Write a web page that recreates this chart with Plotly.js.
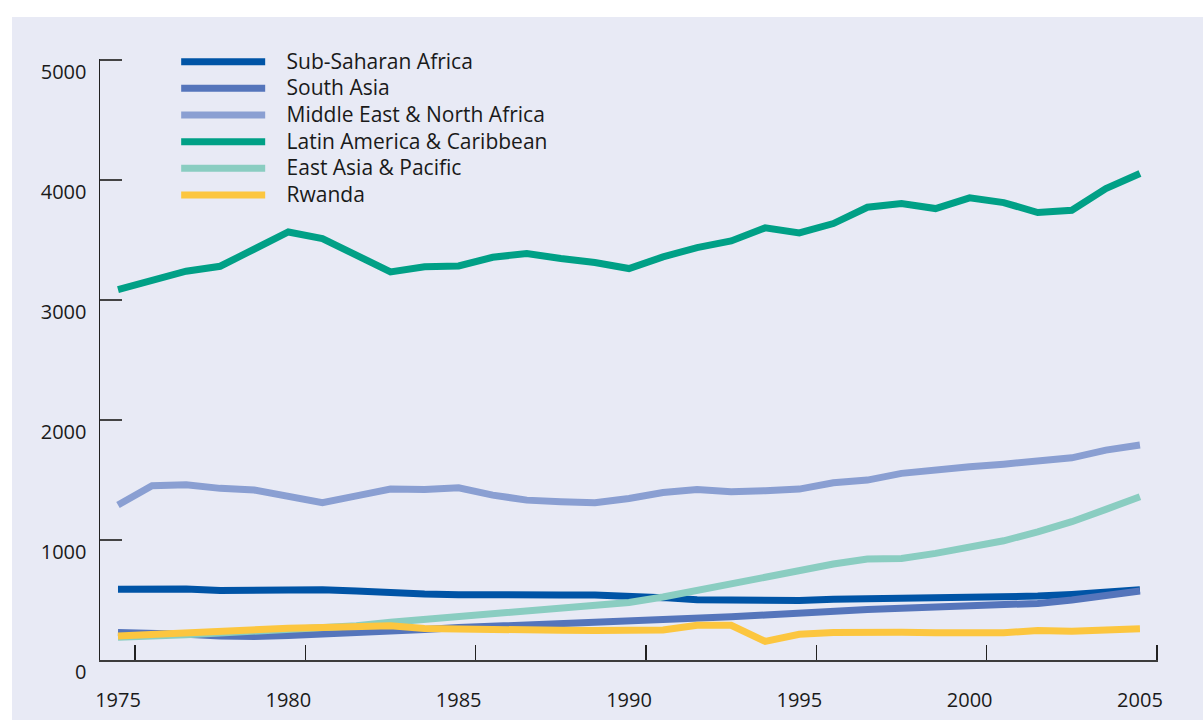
<!DOCTYPE html>
<html>
<head>
<meta charset="utf-8">
<script src="https://cdn.plot.ly/plotly-3.0.1.min.js"></script>
<style>
  html, body { margin: 0; padding: 0; background: #ffffff; width: 1203px; height: 720px; overflow: hidden; }
  #chart { position: absolute; left: 12px; top: 17px; width: 1191px; height: 703px; }
</style>
</head>
<body>
<div id="chart"></div>
<script>
const years = [1975,1976,1977,1978,1979,1980,1981,1982,1983,1984,1985,1986,1987,1988,1989,1990,
               1991,1992,1993,1994,1995,1996,1997,1998,1999,2000,2001,2002,2003,2004,2005];

const subSaharanAfrica = [589,597,592,580,586,592,586,575,556,550,544,539,536,542,542,535,
                          520,502,496,492,496,506,511,511,514,517,522,533,547,567,585];
const southAsia = [230,225,215,200,195,205,215,225,240,255,270,280,290,305,315,325,
                   333,353,361,375,394,411,422,431,444,453,464,472,500,533,575];
const middleEastNorthAfrica = [1292,1453,1461,1431,1417,1367,1311,1369,1425,1422,1436,1375,1333,1319,1311,1347,
                               1397,1422,1403,1411,1425,1478,1500,1556,1589,1611,1633,1661,1686,1750,1792];
const latinAmericaCaribbean = [3089,3167,3242,3283,3431,3569,3514,3375,3236,3278,3286,3358,3389,3347,3314,3264,
                               3361,3439,3494,3603,3561,3639,3775,3806,3764,3853,3814,3731,3750,3931,4056];
const eastAsiaPacific = [190,195,210,225,240,255,270,285,315,340,360,380,405,435,455,480,
                         525,583,639,694,750,800,842,847,889,944,994,1069,1153,1256,1361];
const rwanda = [200,215,220,235,255,265,272,280,285,262,262,258,248,248,245,245,
                250,290,290,155,215,230,235,232,228,222,228,245,240,250,260];

const seriesNames = ["Sub-Saharan Africa","South Asia","Middle East & North Africa",
                     "Latin America & Caribbean","East Asia & Pacific","Rwanda"];
const seriesValues = [subSaharanAfrica, southAsia, middleEastNorthAfrica,
                      latinAmericaCaribbean, eastAsiaPacific, rwanda];
const seriesColors = ["#0054a6","#5575bb","#8a9fd2","#00a086","#8acdc1","#fcc63f"];

const yTicks = [0,1000,2000,3000,4000,5000];
const xTickLabels = ["1975","1980","1985","1990","1995","2000","2005"];
const xTickPositions = xTickLabels.map(s => Number(s) + 0.5);

const traces = seriesNames.map((name, i) => ({
  type: "scatter",
  mode: "lines",
  name: '<span style="font-size:21px">&nbsp;&nbsp;&nbsp;' + name.replace(/&/g, "&amp;") + '</span>',
  x: years,
  y: seriesValues[i],
  line: { color: seriesColors[i], width: 7 },
  hoverinfo: "x+y"
}));

const font = "'Open Sans', 'Noto Sans', sans-serif";

const layout = {
  width: 1191,
  height: 703,
  margin: { l: 88, r: 45, t: 42, b: 60, pad: 0 },
  paper_bgcolor: "#e8eaf5",
  plot_bgcolor: "#e8eaf5",
  font: { family: font, size: 20, color: "#1a1a1a" },
  showlegend: true,
  legend: {
    x: 0.072, xanchor: "left",
    y: 1.026, yanchor: "top",
    bgcolor: "rgba(0,0,0,0)",
    borderwidth: 0,
    font: { family: font, size: 18.2, color: "#1a1a1a" },
    itemwidth: 84,
    traceorder: "normal"
  },
  xaxis: {
    range: [1974.472, 2005.53],
    showgrid: false,
    zeroline: false,
    showline: true,
    linecolor: "#3c3c3c",
    linewidth: 2,
    ticks: "inside",
    ticklen: 15,
    tickwidth: 1.5,
    tickcolor: "#222",
    tickvals: xTickPositions,
    ticktext: xTickLabels,
    ticklabelshift: -17,
    ticklabelstandoff: 21,
    tickfont: { family: font, size: 20, color: "#1a1a1a" },
    fixedrange: true
  },
  yaxis: {
    range: [0, 5011],
    showgrid: false,
    zeroline: false,
    showline: true,
    linecolor: "#222",
    linewidth: 1.5,
    ticks: "inside",
    ticklen: 22,
    tickwidth: 2,
    tickcolor: "#444",
    tickvals: yTicks,
    ticktext: yTicks.map(String),
    ticklabelshift: 12,
    ticklabelstandoff: 8,
    tickfont: { family: font, size: 20, color: "#1a1a1a" },
    fixedrange: true
  }
};

Plotly.newPlot("chart", traces, layout, { displayModeBar: false, staticPlot: true });
</script>
</body>
</html>
